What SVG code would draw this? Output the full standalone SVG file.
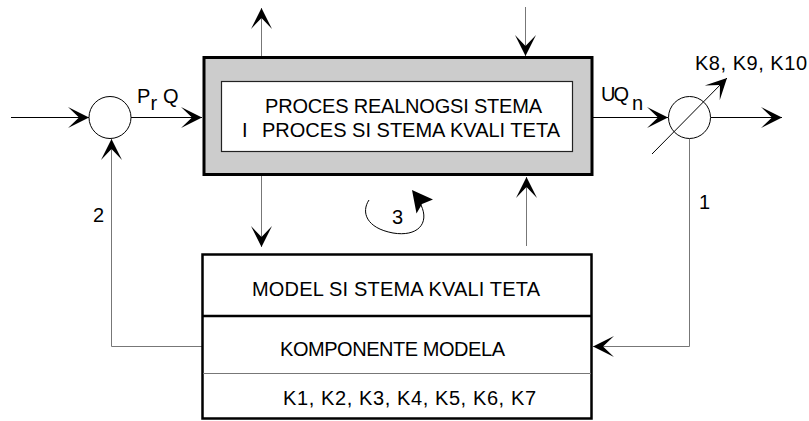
<svg xmlns="http://www.w3.org/2000/svg" width="809" height="421" viewBox="0 0 809 421">
<style>
.t{font-family:"Liberation Sans",Arial,sans-serif;font-size:20px;fill:#000}
.k{stroke:#000;stroke-width:1;fill:none}
.g{stroke:#777;stroke-width:1;fill:none}
</style>
<defs>
<marker id="ah" viewBox="-22 -11 23 22" refX="0" refY="0" markerWidth="23" markerHeight="22" markerUnits="userSpaceOnUse" orient="auto">
<path d="M0,0 L-21,-10.5 L-10,0 L-21,10.5 Z" fill="#000"/>
</marker>
</defs>
<rect width="809" height="421" fill="#fff"/>
<g id="connectors">
<path class="k" d="M11,117.5 H89" marker-end="url(#ah)"/>
<path class="k" d="M131,117.5 H202" marker-end="url(#ah)"/>
<path class="k" d="M593,117.5 H668" marker-end="url(#ah)"/>
<path class="k" d="M711,117.5 H782" marker-end="url(#ah)"/>
<path class="k" d="M652,154 L727,78" marker-end="url(#ah)"/>
<path class="g" d="M261.5,56 V8" marker-end="url(#ah)"/>
<path class="g" d="M525.5,7 V56" marker-end="url(#ah)"/>
<path class="g" d="M261.5,176 V247" marker-end="url(#ah)"/>
<path class="g" d="M526.5,246 V177" marker-end="url(#ah)"/>
<path class="g" d="M202,346.5 H111.5 V139" marker-end="url(#ah)"/>
<path class="g" d="M689.5,139 V346.5 H593" marker-end="url(#ah)"/>
<path class="k" d="M369,200 C361,212 366,228 393,233 C417,237 430,224 421,205"/>
<path d="M412,190 L433,199.5 L422,204 L416.5,213.5 Z" fill="#000"/>
<text class="t" x="93" y="222">2</text>
<text class="t" x="699" y="208.5">1</text>
<text class="t" x="392" y="223.5">3</text>
</g>
<g id="sum">
<circle cx="110" cy="117.5" r="21" fill="#fff" stroke="#000" stroke-width="1"/>
<text class="t" x="137" y="102.5" textLength="12">P</text>
<text class="t" x="150.5" y="109.5" font-size="18">r</text>
<text class="t" x="163" y="102.5">Q</text>
</g>
<g id="process">
<rect x="204" y="57.5" width="388" height="117" fill="#ccc" stroke="#000" stroke-width="3"/>
<rect x="221.5" y="81.5" width="351" height="70" fill="#fff" stroke="#222" stroke-width="1.2"/>
<text class="t" x="265" y="112.5" textLength="277" lengthAdjust="spacing">PROCES REALNOGSI STEMA</text>
<text class="t" x="242" y="137">I</text>
<text class="t" x="262" y="137" textLength="298" lengthAdjust="spacing">PROCES SI STEMA KVALI TETA</text>
</g>
<g id="output">
<circle cx="689.5" cy="117.5" r="21" fill="none" stroke="#000" stroke-width="1"/>
<text class="t" x="601" y="100.5" textLength="28" lengthAdjust="spacing">UQ</text>
<text class="t" x="632" y="109.5">n</text>
<text class="t" x="695" y="70" textLength="112" lengthAdjust="spacing">K8, K9, K10</text>
</g>
<g id="model">
<rect x="202.5" y="254.5" width="389" height="164" fill="#fff" stroke="#000" stroke-width="2.5"/>
<line x1="202.5" y1="316" x2="591.5" y2="316" stroke="#000" stroke-width="2.5"/>
<line x1="203" y1="373.5" x2="591" y2="373.5" stroke="#777" stroke-width="1"/>
<text class="t" x="252" y="295.5" textLength="288" lengthAdjust="spacing">MODEL SI STEMA KVALI TETA</text>
<text class="t" x="280" y="356" textLength="225" lengthAdjust="spacing">KOMPONENTE MODELA</text>
<text class="t" x="283" y="405" textLength="253" lengthAdjust="spacing">K1, K2, K3, K4, K5, K6, K7</text>
</g>
</svg>
